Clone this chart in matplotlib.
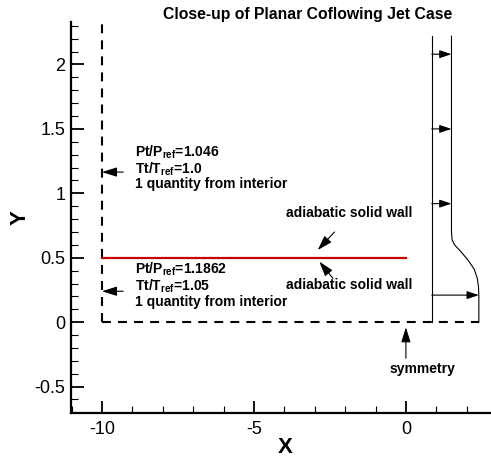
import numpy as np
import matplotlib
matplotlib.use("Agg")
import matplotlib.pyplot as plt
from matplotlib.ticker import MultipleLocator, FuncFormatter

plt.rcParams["font.family"] = ["Liberation Sans", "DejaVu Sans"]
plt.rcParams["mathtext.fontset"] = "custom"
plt.rcParams["mathtext.rm"] = "Liberation Sans:bold"
plt.rcParams["mathtext.it"] = "Liberation Sans:bold"
plt.rcParams["mathtext.bf"] = "Liberation Sans:bold"

# boundaries
inlet_x = -10.0
inlet_y = [0.0, 2.33]
wall_x = [-10.0, 0.0]
wall_y = 0.5
sym_x = [-10.0, 2.4]

# coflowing jet velocity profile (downstream station)
profile_base = 0.85
profile_x = [2.4, 2.4, 2.39, 2.35, 2.25, 2.05, 1.8, 1.6, 1.52, 1.5, 1.5]
profile_y = [0.0, 0.2, 0.27, 0.34, 0.41, 0.48, 0.55, 0.6, 0.64, 0.7, 2.22]
arrow_y = [2.08, 1.5, 0.92, 0.21]

fig = plt.figure(figsize=(4.91, 4.57), dpi=100)
ax = fig.add_axes([0.1446, 0.0963, 0.8554, 0.8556])

dash = (0, (4.3, 3.4))
ax.plot([inlet_x, inlet_x], inlet_y, color="black", lw=1.5, linestyle=dash)
ax.plot(sym_x, [0, 0], color="black", lw=1.5, linestyle=dash)
ax.plot(wall_x, [wall_y, wall_y], color="#c80000", lw=1.6)

# velocity profile
ax.plot([profile_base, profile_base], [0, profile_y[-1]], color="black", lw=0.8)
ax.plot(profile_x, profile_y, color="black", lw=0.8)
for ya in arrow_y:
    xa = np.interp(ya, profile_y[1:], profile_x[1:])
    ax.annotate("", xy=(xa, ya), xytext=(profile_base, ya),
                arrowprops=dict(arrowstyle="-|>,head_length=0.6,head_width=0.2",
                                color="black", lw=0.8,
                                mutation_scale=12, shrinkA=0, shrinkB=0))

# inlet annotations
fs = 10
txt_kw = dict(fontsize=fs, fontweight="bold", ha="left", va="center", linespacing=0.95)
ax.text(-8.9, 1.2, "Pt/P$_{ref}$=1.046\nTt/T$_{ref}$=1.0\n1 quantity from interior", **txt_kw)
ax.text(-8.9, 0.29, "Pt/P$_{ref}$=1.1862\nTt/T$_{ref}$=1.05\n1 quantity from interior", **txt_kw)
arr = dict(arrowstyle="-|>,head_length=0.7,head_width=0.22", color="black", lw=0.8,
           mutation_scale=13, shrinkA=0, shrinkB=0)
ax.annotate("", xy=(-10, 1.165), xytext=(-9.3, 1.165), arrowprops=arr)
ax.annotate("", xy=(-10, 0.24), xytext=(-9.3, 0.24), arrowprops=arr)

# wall annotations
ax.text(-1.85, 0.845, "adiabatic solid wall", fontsize=fs, fontweight="bold",
        ha="center", va="center")
ax.text(-1.85, 0.285, "adiabatic solid wall", fontsize=fs, fontweight="bold",
        ha="center", va="center")
ax.annotate("", xy=(-2.9, 0.56), xytext=(-2.35, 0.70), arrowprops=arr)
ax.annotate("", xy=(-2.85, 0.47), xytext=(-2.4, 0.34), arrowprops=arr)

# symmetry
ax.annotate("", xy=(0, -0.04), xytext=(0, -0.28), arrowprops=arr)
ax.text(0.55, -0.365, "symmetry", fontsize=fs, fontweight="bold", ha="center", va="center")

ax.set_xlim(-11.02, 2.8)
ax.set_ylim(-0.705, 2.33)
ax.xaxis.set_major_locator(MultipleLocator(5))
ax.xaxis.set_minor_locator(MultipleLocator(1))
ax.yaxis.set_major_locator(MultipleLocator(0.5))
ax.yaxis.set_minor_locator(MultipleLocator(0.1))
ax.tick_params(which="major", direction="in", length=9, width=1.3, labelsize=13)
ax.tick_params(which="minor", direction="in", length=5, width=0.8)
ax.tick_params(axis="x", pad=6)
ax.tick_params(axis="y", pad=4)
ax.xaxis.set_major_formatter(FuncFormatter(lambda v, p: f"{v:g}"))
ax.yaxis.set_major_formatter(FuncFormatter(lambda v, p: f"{v:g}"))
for s in ["top", "right"]:
    ax.spines[s].set_visible(False)
for s in ["left", "bottom"]:
    ax.spines[s].set_linewidth(1.6)

ax.set_xlabel("X", fontsize=16, fontweight="bold", va="center")
ax.set_ylabel("Y", fontsize=16, fontweight="bold", va="center")
ax.xaxis.set_label_coords(0.51, -0.087)
ax.yaxis.set_label_coords(-0.121, 0.5)
fig.text(0.626, 0.969, "Close-up of Planar Coflowing Jet Case", fontsize=11.3,
         fontweight="bold", ha="center", va="center")

fig.savefig("out.png", dpi=100)
